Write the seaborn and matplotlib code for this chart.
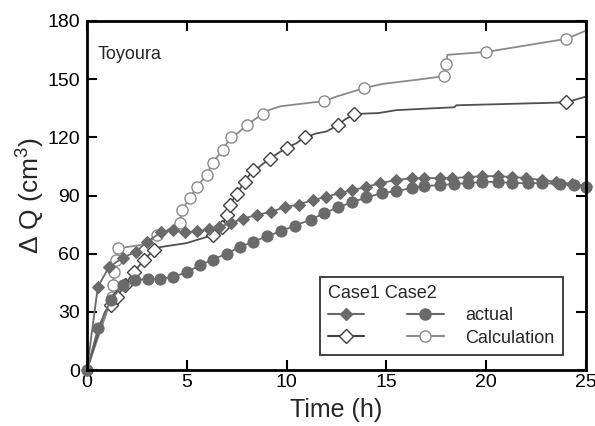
import matplotlib
matplotlib.use("Agg")
import matplotlib.pyplot as plt
import seaborn as sns
from matplotlib.lines import Line2D

# Case1 - actual (filled diamonds)
c1_act_t = [0, 0.55, 1.1, 1.8, 2.45, 3.0, 3.7, 4.3, 4.9, 5.5, 6.1, 6.6, 7.2, 7.8, 8.5, 9.2,
            9.9, 10.6, 11.3, 12.0, 12.7, 13.3, 14.0, 14.7, 15.5, 16.3, 16.9, 17.7, 18.3,
            19.1, 19.8, 20.6, 21.3, 22.0, 22.8, 23.5, 24.3, 25.0]
c1_act_q = [0, 43, 53, 58, 61, 66, 71, 72, 71, 71.5, 72.5, 73.7, 75.8, 78, 80, 81.5,
            84, 85.3, 87.7, 89.3, 91.4, 92.8, 94.4, 96.4, 98, 99, 99, 99, 99,
            99.5, 100, 100, 99.5, 99, 98, 97, 96, 95]

# Case2 - actual (filled circles)
c2_act_t = [0, 0.55, 1.2, 1.8, 2.4, 3.05, 3.65, 4.3, 5.0, 5.65, 6.3, 7.0, 7.65, 8.3, 9.0,
            9.7, 10.4, 11.2, 11.9, 12.6, 13.3, 14.0, 14.8, 15.5, 16.3, 16.9, 17.7, 18.4,
            19.1, 19.8, 20.6, 21.3, 22.1, 22.8, 23.7, 24.4, 25.0]
c2_act_q = [0, 21.5, 36, 44, 46.4, 47, 47, 48, 50.5, 54, 57, 60, 63.5, 66, 69,
            71.5, 74.5, 77.5, 81, 84, 86.6, 89, 91.3, 92.3, 93.9, 94.9, 95.4, 95.9,
            96.4, 97, 97, 96.4, 96.4, 96.4, 96, 95.4, 94.5]

# Case1 - calculation (line path and open diamond markers)
c1_calc_t = [0, 0.9, 1.2, 1.5, 1.9, 2.35, 2.85, 3.35, 3.65, 5.0, 6.3, 6.75, 7.0, 7.15, 7.5,
             7.9, 8.3, 8.6, 9.15, 9.6, 10.0, 10.5, 10.9, 11.5, 12.0, 12.6, 12.9, 13.4,
             14.6, 15.5, 18.4, 18.5, 24.0, 25.0]
c1_calc_q = [0, 30, 33.5, 37.6, 44, 50.5, 56.7, 62, 63.4, 65.5, 69.6, 73.7, 80, 85, 91,
             97, 103, 104.5, 109, 112, 114.5, 117, 120, 122, 123, 126.4, 129, 132,
             132.5, 134, 135.5, 136.5, 138, 141]
c1_mark_t = [1.2, 1.5, 1.9, 2.35, 2.85, 3.35, 6.3, 6.75, 7.0, 7.15, 7.5, 7.9, 8.3,
             9.15, 10.0, 10.9, 12.6, 13.4, 24.0]
c1_mark_q = [33.5, 37.6, 44, 50.5, 56.7, 62, 69.6, 73.7, 80, 85, 91, 97, 103,
             109, 114.5, 120, 126.4, 132, 138]

# Case2 - calculation (line path and open circle markers)
c2_calc_t = [0, 1.1, 1.27, 1.32, 1.35, 1.44, 1.57, 3.0, 3.5, 4.0, 4.65, 4.75, 5.15, 5.5,
             6.0, 6.3, 6.8, 7.2, 7.6, 8.0, 8.8, 9.1, 9.7, 11.9, 12.5, 13.9, 14.8, 16.4,
             17.9, 18.0, 18.05, 20.0, 24.0, 25.0]
c2_calc_q = [0, 33, 37.8, 43.8, 50.7, 56.7, 62.8, 65, 69.6, 72, 75.8, 82.5, 88.5, 94.4,
             100.6, 107, 113.5, 120, 122.5, 126.4, 132, 134, 136, 138.7, 141, 145.4,
             147.5, 149.5, 151.5, 157.8, 162.5, 164, 170.7, 175]
c2_mark_t = [1.27, 1.32, 1.35, 1.44, 1.57, 3.5, 4.65, 4.75, 5.15, 5.5, 6.0, 6.3, 6.8,
             7.2, 8.0, 8.8, 11.9, 13.9, 17.9, 18.0, 20.0, 24.0]
c2_mark_q = [37.8, 43.8, 50.7, 56.7, 62.8, 69.6, 75.8, 82.5, 88.5, 94.4, 100.6, 107,
             113.5, 120, 126.4, 132, 138.7, 145.4, 151.5, 157.8, 164, 170.7]

sns.set_style("ticks")
plt.rcParams['font.family'] = ['Liberation Sans', 'DejaVu Sans']
plt.rcParams['mathtext.fontset'] = 'custom'
plt.rcParams['mathtext.rm'] = 'Liberation Sans'
plt.rcParams['mathtext.it'] = 'Liberation Sans'

fig = plt.figure(figsize=(5.95, 4.26), dpi=100)
ax = fig.add_axes([0.146, 0.131, 0.839, 0.820])

dark = "#6a6a6a"
c1_line = "#505050"
c2_line = "#8a8a8a"
ms = 8

# calculation lines
sns.lineplot(x=c2_calc_t, y=c2_calc_q, sort=False, estimator=None, color=c2_line,
             linewidth=1.3, ax=ax)
sns.lineplot(x=c2_mark_t, y=c2_mark_q, sort=False, estimator=None, linestyle="",
             marker="o", markersize=ms, markerfacecolor="white",
             markeredgecolor=c2_line, markeredgewidth=1.0, ax=ax)
sns.lineplot(x=c1_calc_t, y=c1_calc_q, sort=False, estimator=None, color=c1_line,
             linewidth=1.3, ax=ax)
sns.lineplot(x=c1_mark_t, y=c1_mark_q, sort=False, estimator=None, linestyle="",
             marker="D", markersize=ms - 1, markerfacecolor="white",
             markeredgecolor="#404040", markeredgewidth=1.0, ax=ax)

# actual lines
sns.lineplot(x=c2_act_t, y=c2_act_q, sort=False, estimator=None, color=dark,
             linewidth=1.3, marker="o", markersize=ms, markeredgecolor=dark,
             markerfacecolor=dark, clip_on=False, ax=ax)
sns.lineplot(x=c1_act_t, y=c1_act_q, sort=False, estimator=None, color=dark,
             linewidth=1.3, marker="D", markersize=ms - 1.5, markeredgecolor=dark,
             markerfacecolor=dark, clip_on=False, ax=ax)

ax.set_xlim(0, 25)
ax.set_ylim(0, 180)
ax.set_xticks([0, 5, 10, 15, 20, 25])
ax.set_yticks([0, 30, 60, 90, 120, 150, 180])
ax.tick_params(direction="in", length=7, width=1.5, top=True, right=True,
               labelsize=14, pad=5, colors="black")
ax.tick_params(axis="x", pad=3)
for sp in ax.spines.values():
    sp.set_linewidth(2)
    sp.set_color("black")

ax.set_xlabel("Time (h)", fontsize=18, labelpad=5)
ax.set_ylabel(r"$\Delta$ Q (cm$^3$)", fontsize=19, labelpad=0)

ax.text(0.022, 0.905, "Toyoura", transform=ax.transAxes, fontsize=13,
        va="center", ha="left")

handles = [
    Line2D([], [], color=dark, marker="D", markersize=ms - 2, markerfacecolor=dark),
    Line2D([], [], color="#404040", marker="D", markersize=ms - 1,
           markerfacecolor="white"),
    Line2D([], [], color=dark, marker="o", markersize=ms, markerfacecolor=dark),
    Line2D([], [], color=c2_line, marker="o", markersize=ms, markerfacecolor="white"),
]
labels = ["", "", "actual", "Calculation"]
leg = ax.legend(handles, labels, ncol=2, title="Case1 Case2", fontsize=13,
                title_fontsize=13, loc="lower right", bbox_to_anchor=(0.971, 0.018),
                frameon=True, fancybox=False, edgecolor="black", handlelength=2,
                columnspacing=1.2, handletextpad=1.2, borderpad=0.45,
                labelspacing=0.3, alignment="left")
leg.get_frame().set_linewidth(1.3)

fig.savefig("out.png", dpi=100)
